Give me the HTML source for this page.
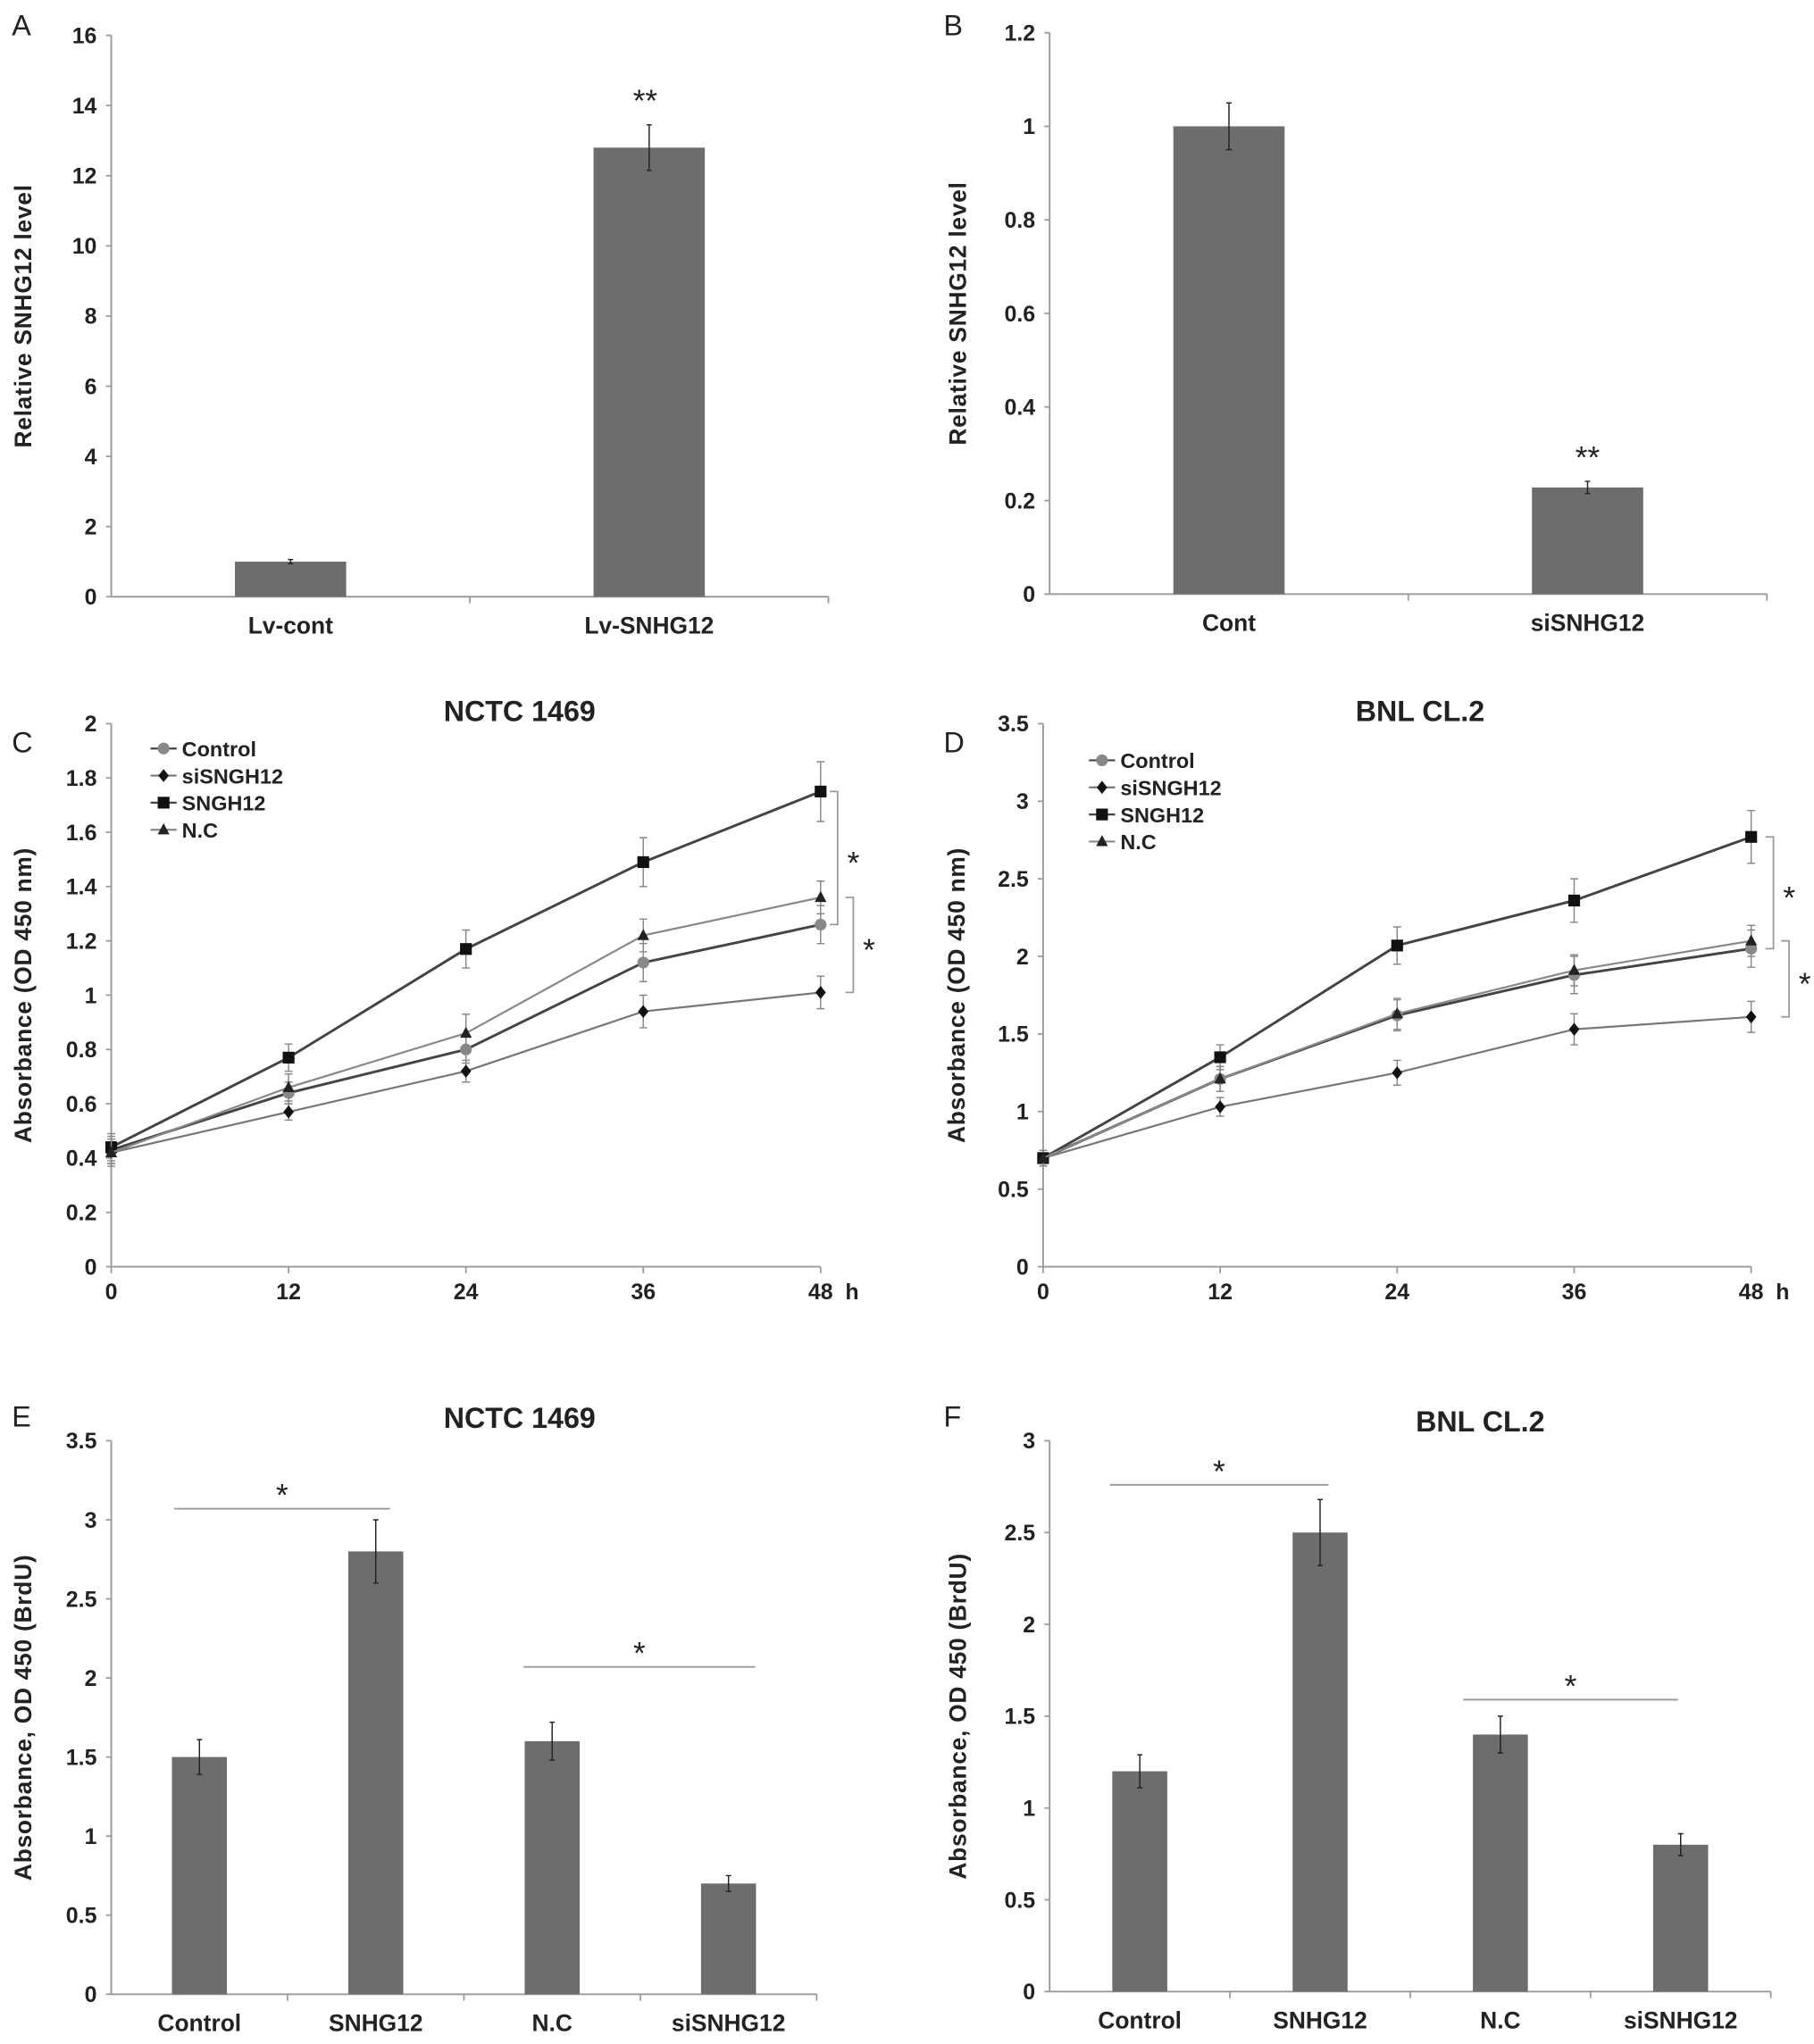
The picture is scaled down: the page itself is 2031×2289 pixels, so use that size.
<!DOCTYPE html>
<html><head><meta charset="utf-8"><style>
html,body{margin:0;padding:0;background:#fff;}
svg{display:block;}
text{font-family:"Liberation Sans",Arial,sans-serif;font-weight:bold;fill:#222;}
</style></head><body>
<svg id="fig" width="2031" height="2289" viewBox="0 0 1386 1562" xmlns="http://www.w3.org/2000/svg"></svg>
<script>
// ---- Panel A data ----
const aCats = ["Lv-cont","Lv-SNHG12"];
const aVals = [1.0, 12.8];
const aErrs = [0.06, 0.65];
const aTicks = [0,2,4,6,8,10,12,14,16];
// ---- Panel B data ----
const bCats = ["Cont","siSNHG12"];
const bVals = [1.0, 0.228];
const bErrs = [0.05, 0.013];
const bTicks = [0,0.2,0.4,0.6,0.8,1,1.2];
// ---- Panel C data ----
const cHours = [0,12,24,36,48];
const cControl = [0.43,0.64,0.80,1.12,1.26];
const cSi = [0.42,0.57,0.72,0.94,1.01];
const cSngh = [0.44,0.77,1.17,1.49,1.75];
const cNC = [0.42,0.66,0.86,1.22,1.36];
const cErrControl = [0.05,0.04,0.05,0.07,0.07];
const cErrSi = [0.04,0.03,0.04,0.06,0.06];
const cErrSngh = [0.05,0.05,0.07,0.09,0.11];
const cErrNC = [0.05,0.05,0.07,0.06,0.06];
const cTicks = [0,0.2,0.4,0.6,0.8,1,1.2,1.4,1.6,1.8,2];
// ---- Panel D data ----
const dHours = [0,12,24,36,48];
const dControl = [0.70,1.21,1.62,1.88,2.05];
const dSi = [0.70,1.03,1.25,1.53,1.61];
const dSngh = [0.70,1.35,2.07,2.36,2.77];
const dNC = [0.70,1.21,1.63,1.91,2.10];
const dErrControl = [0.05,0.08,0.10,0.12,0.12];
const dErrSi = [0.05,0.06,0.08,0.10,0.10];
const dErrSngh = [0.05,0.08,0.12,0.14,0.17];
const dErrNC = [0.05,0.08,0.10,0.10,0.10];
const dTicks = [0,0.5,1,1.5,2,2.5,3,3.5];
// ---- Panel E data ----
const eCats = ["Control","SNHG12","N.C","siSNHG12"];
const eVals = [1.5,2.8,1.6,0.7];
const eErrs = [0.11,0.2,0.12,0.05];
const eTicks = [0,0.5,1,1.5,2,2.5,3,3.5];
// ---- Panel F data ----
const fCats = ["Control","SNHG12","N.C","siSNHG12"];
const fVals = [1.2,2.5,1.4,0.8];
const fErrs = [0.09,0.18,0.1,0.06];
const fTicks = [0,0.5,1,1.5,2,2.5,3];

const NS="http://www.w3.org/2000/svg";
const svg=document.getElementById('fig');
function mk(tag,attrs,parent,txt){const e=document.createElementNS(NS,tag);for(const k in attrs)e.setAttribute(k,attrs[k]);if(txt!==undefined)e.textContent=txt;(parent||svg).appendChild(e);return e;}
function grp(name){const g=mk('g',{});return g;}
function fmt(v){return String(+v.toFixed(2));}

function axes(g,o){
  // o: x0,x1,yTop,yBot,max,ticks,title,titleX
  const ys=v=>o.yBot-(v/o.max)*(o.yBot-o.yTop);
  const ax=mk('line',{x1:o.x0,y1:o.yTop,x2:o.x0,y2:o.yBot,stroke:'#999','stroke-width':1.3},g);
  
  const bx=mk('line',{x1:o.x0,y1:o.yBot,x2:o.x1,y2:o.yBot,stroke:'#999','stroke-width':1.3},g);
  
  o.ticks.forEach(t=>{
    const y=ys(t);
    mk('line',{x1:o.x0-4,y1:y,x2:o.x0,y2:y,stroke:'#999','stroke-width':1.2},g);
    const tl=mk('text',{x:o.x0-11,y:y+6,'text-anchor':'end','font-size':17},g,fmt(t));
    
  });
  const cy=(o.yTop+o.yBot)/2;
  const tt=mk('text',{x:o.titleX,y:cy,'text-anchor':'middle','font-size':18,transform:`rotate(-90 ${o.titleX} ${cy})`,'letter-spacing':'0.5'},g,o.title);
  
  return ys;
}

function barPanel(name,o,cats,vals,errs){
  const g=grp(name);
  const ys=axes(g,o);
  const n=cats.length, step=(o.x1-o.x0)/n;
  for(let i=1;i<n;i++){const x=o.x0+step*i;mk('line',{x1:x,y1:o.yBot,x2:x,y2:o.yBot+5,stroke:'#999','stroke-width':1.2},g);}
  mk('line',{x1:o.x1,y1:o.yBot,x2:o.x1,y2:o.yBot+5,stroke:'#999','stroke-width':1.2},g);
  cats.forEach((c,i)=>{
    const cx=o.x0+step*(i+0.5);
    const r=mk('rect',{x:cx-o.bw/2,y:ys(vals[i]),width:o.bw,height:o.yBot-ys(vals[i]),fill:'#6d6d6d'},g);
    
    const e=mk('path',{d:`M${cx},${ys(vals[i]+errs[i])}V${ys(vals[i]-errs[i])}M${cx-2},${ys(vals[i]+errs[i])}h4M${cx-2},${ys(vals[i]-errs[i])}h4`,stroke:'#222','stroke-width':1,fill:'none'},g);
    
    const l=mk('text',{x:cx,y:o.yBot+28,'text-anchor':'middle','font-size':18},g,c);
    
  });
  return {g,ys,step};
}

function label(txt,x,y){const t=mk('text',{x:x,y:y,'font-size':22,'font-weight':'normal'},svg,txt);t.style.fontWeight='normal';}
function title(txt,x,y){const t=mk('text',{x:x,y:y,'text-anchor':'middle','font-size':22},svg,txt);}
function star(txt,x,y,g){const t=mk('text',{x:x,y:y,'text-anchor':'middle','font-size':24,'font-weight':'normal'},g,txt);t.style.fontWeight='normal';}

// Panel A
label('A',9,27);
const pa=barPanel('panel-a',{x0:85,x1:633,yTop:27,yBot:456,max:16,ticks:aTicks,title:'Relative SNHG12 level',titleX:24,bw:85},aCats,aVals,aErrs);
star('**',493,pa.ys(aVals[1]+aErrs[1])-10,pa.g);
// Panel B
label('B',721,27);
const pb=barPanel('panel-b',{x0:802,x1:1350,yTop:25,yBot:454,max:1.2,ticks:bTicks,title:'Relative SNHG12 level',titleX:738,bw:85},bCats,bVals,bErrs);
star('**',1213,pb.ys(bVals[1]+bErrs[1])-10,pb.g);

// Line panels
function linePanel(name,o,hours,series,brackets){
  const g=grp(name);
  const ys=axes(g,o);
  const xs=h=>o.x0+(h/48)*(o.x1-o.x0);
  hours.forEach(h=>{
    mk('line',{x1:xs(h),y1:o.yBot,x2:xs(h),y2:o.yBot+5,stroke:'#999','stroke-width':1.2},g);
    const t=mk('text',{x:xs(h),y:o.yBot+25,'text-anchor':'middle','font-size':17},g,String(h));
    
  });
  const hl=mk('text',{x:o.x1+24,y:o.yBot+25,'text-anchor':'middle','font-size':17},g,'h');
  
  function marker(type,x,y,col,p){
    let m;
    if(type==='circle')m=mk('circle',{cx:x,cy:y,r:4.5,fill:col},p);
    else if(type==='diamond')m=mk('path',{d:`M${x},${y-5}L${x+4},${y}L${x},${y+5}L${x-4},${y}Z`,fill:col},p);
    else if(type==='square')m=mk('rect',{x:x-4.5,y:y-4.5,width:9,height:9,fill:col},p);
    else m=mk('path',{d:`M${x},${y-5}L${x+4.5},${y+3.5}L${x-4.5},${y+3.5}Z`,fill:col},p);
    
  }
  series.forEach(s=>{
    const sg=mk('g',{},g);
    s.err.forEach((e,i)=>{const x=xs(hours[i]);mk('path',{d:`M${x},${ys(s.vals[i]+e)}V${ys(s.vals[i]-e)}M${x-3},${ys(s.vals[i]+e)}h6M${x-3},${ys(s.vals[i]-e)}h6`,stroke:'#888','stroke-width':1,fill:'none'},sg);});
    const pts=s.vals.map((v,i)=>xs(hours[i])+','+ys(v)).join(' ');
    const pl=mk('polyline',{points:pts,fill:'none',stroke:s.col,'stroke-width':s.w},sg);
    
    s.vals.forEach((v,i)=>marker(s.m,xs(hours[i]),ys(v),s.mcol,sg));
  });
  // legend
  const lg=mk('g',{},g);
  series.forEach((s,i)=>{
    const y=o.legY+i*20.7;
    const le=mk('g',{},lg);
    mk('line',{x1:o.legX,y1:y,x2:o.legX+20,y2:y,stroke:s.col,'stroke-width':1.5},le);
    marker(s.m,o.legX+10,y,s.mcol,le);
    mk('text',{x:o.legX+24,y:y+6,'font-size':16},le,s.name);
  });
  brackets.forEach(b=>{
    const y1=ys(b.hi),y2=ys(b.lo);
    const p=mk('path',{d:`M${b.x-6},${y1}H${b.x}V${y2}H${b.x-6}`,stroke:'#999','stroke-width':1.2,fill:'none'},g);
    
    star('*',b.x+12,(y1+y2)/2+12,g);
  });
}
label('C',9,575);
title('NCTC 1469',397,551);
linePanel('panel-c',{x0:85,x1:627,yTop:553,yBot:968,max:2,ticks:cTicks,title:'Absorbance (OD 450 nm)',titleX:24,legX:115,legY:572},cHours,[
 {name:'Control',vals:cControl,err:cErrControl,m:'circle',col:'#444',mcol:'#888',w:2},
 {name:'siSNGH12',vals:cSi,err:cErrSi,m:'diamond',col:'#777',mcol:'#111',w:1.5},
 {name:'SNGH12',vals:cSngh,err:cErrSngh,m:'square',col:'#444',mcol:'#111',w:2},
 {name:'N.C',vals:cNC,err:cErrNC,m:'triangle',col:'#888',mcol:'#222',w:1.5}
],[{x:640,hi:cSngh[4],lo:cControl[4]},{x:652,hi:cNC[4],lo:cSi[4]}]);
label('D',721,575);
title('BNL CL.2',1085,551);
linePanel('panel-d',{x0:797,x1:1338,yTop:553,yBot:968,max:3.5,ticks:dTicks,title:'Absorbance (OD 450 nm)',titleX:737,legX:832,legY:581},dHours,[
 {name:'Control',vals:dControl,err:dErrControl,m:'circle',col:'#444',mcol:'#888',w:2},
 {name:'siSNGH12',vals:dSi,err:dErrSi,m:'diamond',col:'#777',mcol:'#111',w:1.5},
 {name:'SNGH12',vals:dSngh,err:dErrSngh,m:'square',col:'#444',mcol:'#111',w:2},
 {name:'N.C',vals:dNC,err:dErrNC,m:'triangle',col:'#888',mcol:'#222',w:1.5}
],[{x:1355,hi:dSngh[4],lo:dControl[4]},{x:1367,hi:dNC[4],lo:dSi[4]}]);

// Panel E
label('E',9,1090);
title('NCTC 1469',397,1091);
const pe=barPanel('panel-e',{x0:85,x1:624,yTop:1101,yBot:1524,max:3.5,ticks:eTicks,title:'Absorbance, OD 450 (BrdU)',titleX:24,bw:42},eCats,eVals,eErrs);
function sigLine(p,x1,x2,y,g){const l=mk('line',{x1:x1,y1:y,x2:x2,y2:y,stroke:'#999','stroke-width':1.3},g);star('*',(x1+x2)/2,y-2,g);}
sigLine(pe,133,298,pe.ys(3.07),pe.g);
sigLine(pe,400,577,pe.ys(2.07),pe.g);
// Panel F
label('F',721,1090);
title('BNL CL.2',1131,1094);
const pf=barPanel('panel-f',{x0:802,x1:1353,yTop:1101,yBot:1522,max:3,ticks:fTicks,title:'Absorbance, OD 450 (BrdU)',titleX:738,bw:42},fCats,fVals,fErrs);
sigLine(pf,848,1015,pf.ys(2.76),pf.g);
sigLine(pf,1118,1282,pf.ys(1.59),pf.g);
</script>
</body></html>
